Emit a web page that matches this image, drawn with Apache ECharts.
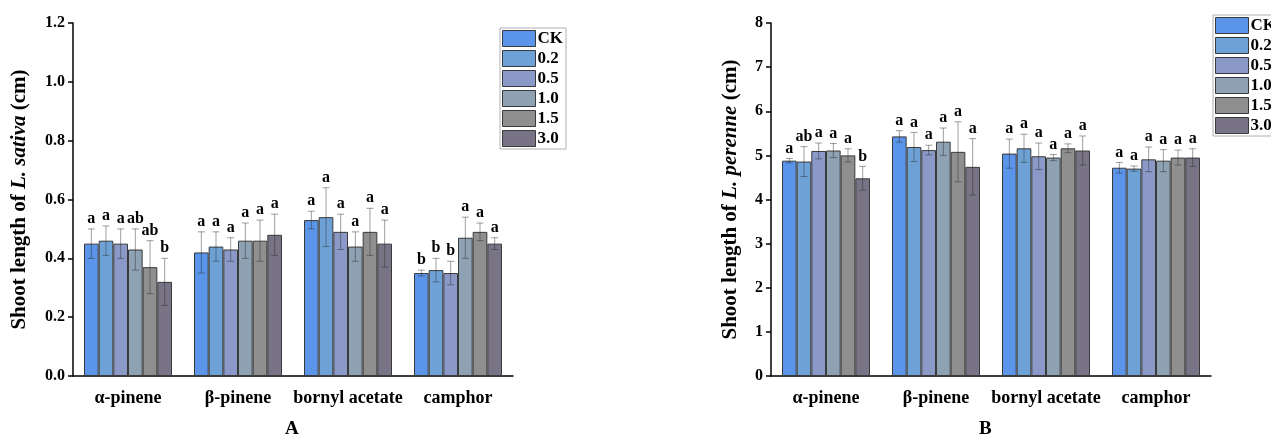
<!DOCTYPE html>
<html>
<head>
<meta charset="utf-8">
<script src="https://cdn.jsdelivr.net/npm/echarts@6/dist/echarts.min.js"></script>
<style>
html,body{margin:0;padding:0;background:#fff;}
#c{width:1271px;height:438px;}
</style>
</head>
<body>
<div id="c"></div>
<script>
// ---- data ----
const categories = ['α-pinene', 'β-pinene', 'bornyl acetate', 'camphor'];
const seriesNames = ['CK', '0.2', '0.5', '1.0', '1.5', '3.0'];
const colors = ['#5b95ea', '#6ea2d6', '#8b99c9', '#8fa2b3', '#8f8f8f', '#787486'];

// Chart A: L. sativa (rows = series, cols = categories)
const aMean = [
  [0.45, 0.42, 0.53, 0.35],
  [0.46, 0.44, 0.54, 0.36],
  [0.45, 0.43, 0.49, 0.35],
  [0.43, 0.46, 0.44, 0.47],
  [0.37, 0.46, 0.49, 0.49],
  [0.32, 0.48, 0.45, 0.45]
];
const aSD = [
  [0.05, 0.07, 0.03, 0.01],
  [0.05, 0.05, 0.10, 0.04],
  [0.05, 0.04, 0.06, 0.04],
  [0.07, 0.06, 0.05, 0.07],
  [0.09, 0.07, 0.08, 0.03],
  [0.08, 0.07, 0.08, 0.02]
];
const aLetters = [
  ['a', 'a', 'a', 'b'],
  ['a', 'a', 'a', 'b'],
  ['a', 'a', 'a', 'b'],
  ['ab', 'a', 'a', 'a'],
  ['ab', 'a', 'a', 'a'],
  ['b', 'a', 'a', 'a']
];
const aTicks = [0, 1.2, 0.2];

// Chart B: L. perenne
const bMean = [
  [4.88, 5.43, 5.04, 4.72],
  [4.86, 5.19, 5.16, 4.70],
  [5.10, 5.12, 4.98, 4.91],
  [5.11, 5.31, 4.95, 4.88],
  [5.00, 5.08, 5.16, 4.95],
  [4.48, 4.74, 5.11, 4.95]
];
const bSD = [
  [0.05, 0.13, 0.33, 0.12],
  [0.34, 0.33, 0.32, 0.06],
  [0.18, 0.11, 0.30, 0.28],
  [0.16, 0.31, 0.07, 0.25],
  [0.15, 0.68, 0.10, 0.17],
  [0.27, 0.64, 0.33, 0.20]
];
const bLetters = [
  ['a', 'a', 'a', 'a'],
  ['ab', 'a', 'a', 'a'],
  ['a', 'a', 'a', 'a'],
  ['a', 'a', 'a', 'a'],
  ['a', 'a', 'a', 'a'],
  ['b', 'a', 'a', 'a']
];
const bTicks = [0, 8, 1];

// ---- chart ----
const FONT = '"Liberation Serif", "Times New Roman", serif';
const chart = echarts.init(document.getElementById('c'));

const grids = [
  { left: 73, top: 23, width: 440, height: 353 },
  { left: 771, top: 23, width: 440, height: 353 }
];

function xAxes(gi) {
  return [
    {
      type: 'category', gridIndex: gi, data: categories,
      axisLine: { lineStyle: { color: '#000', width: 1.5 } },
      axisTick: { alignWithLabel: true, length: 6, lineStyle: { color: '#000', width: 1.5 } },
      axisLabel: { interval: 0, fontFamily: FONT, fontWeight: 'bold', fontSize: 18, color: '#000', margin: 13 }
    },
    {
      type: 'category', gridIndex: gi, data: categories, position: 'bottom',
      axisLine: { show: false },
      axisTick: { alignWithLabel: false, interval: 0, length: 3, lineStyle: { color: '#000', width: 1.5 } },
      axisLabel: { show: false }
    }
  ];
}

function yAxis(gi, ticks, title, italic, gap, decimals) {
  return {
    type: 'value', gridIndex: gi, min: ticks[0], max: ticks[1], interval: ticks[2],
    splitLine: { show: false },
    axisLine: { show: true, lineStyle: { color: '#000', width: 1.5 } },
    axisTick: { show: true, length: 5, lineStyle: { color: '#000', width: 1.5 } },
    axisLabel: {
      fontFamily: FONT, fontWeight: 'bold', fontSize: 16, color: '#000', margin: 8,
      formatter: v => v.toFixed(decimals)
    },
    name: title + '{i|' + italic + '} (cm)',
    nameLocation: 'middle', nameRotate: 90, nameGap: gap,
    nameTextStyle: {
      fontFamily: FONT, fontWeight: 'bold', fontSize: 21, color: '#000',
      rich: { i: { fontFamily: FONT, fontWeight: 'bold', fontStyle: 'italic', fontSize: 21, color: '#000' } }
    }
  };
}

function barSeries(mean, xi, yi) {
  return seriesNames.map((n, s) => ({
    name: n, type: 'bar', xAxisIndex: xi, yAxisIndex: yi,
    data: mean[s], barGap: '0%', barCategoryGap: '20%',
    itemStyle: { color: colors[s], borderColor: '#3a3a3a', borderWidth: 1 },
    emphasis: { disabled: true }
  }));
}

function errSeries(mean, sd, letters, xi, yi) {
  const data = [];
  for (let s = 0; s < seriesNames.length; s++)
    for (let c = 0; c < categories.length; c++)
      data.push([c, s, mean[s][c], sd[s][c]]);
  return {
    type: 'custom', xAxisIndex: xi, yAxisIndex: yi, z: 10, silent: true,
    encode: { x: 0, y: 2 },
    data: data,
    renderItem: function (params, api) {
      const c = api.value(0), s = api.value(1), m = api.value(2), e = api.value(3);
      const bw = api.size([1, 0])[0];
      const groupW = bw * 0.8, barW = groupW / seriesNames.length;
      const cx = api.coord([c, 0])[0] - groupW / 2 + (s + 0.5) * barW;
      const yT = api.coord([c, m + e])[1];
      const yB = api.coord([c, m - e])[1];
      const st = { stroke: 'rgba(40,40,40,0.45)', lineWidth: 1 };
      return {
        type: 'group',
        children: [
          { type: 'line', shape: { x1: cx, y1: yT, x2: cx, y2: yB }, style: st },
          { type: 'line', shape: { x1: cx - 3.5, y1: yT, x2: cx + 3.5, y2: yT }, style: st },
          { type: 'line', shape: { x1: cx - 3.5, y1: yB, x2: cx + 3.5, y2: yB }, style: st },
          {
            type: 'text',
            style: {
              text: letters[s][c], x: cx, y: yT - 2,
              textAlign: 'center', textVerticalAlign: 'bottom',
              fontFamily: FONT, fontWeight: 'bold', fontSize: 16, fill: '#000'
            }
          }
        ]
      };
    }
  };
}

function legend(left, top) {
  return {
    orient: 'vertical', left: left, top: top, data: seriesNames,
    itemWidth: 33, itemHeight: 16, itemGap: 3,
    padding: [2, 3, 2, 2], borderColor: '#b0b0b0', borderWidth: 1,
    icon: 'rect', selectedMode: false,
    textStyle: { fontFamily: FONT, fontWeight: 'bold', fontSize: 17, color: '#000', padding: [0, 0, 0, -3] },
    itemStyle: { borderColor: '#3a3a3a', borderWidth: 1 }
  };
}

chart.setOption({
  animation: false,
  grid: grids,
  xAxis: [...xAxes(0), ...xAxes(1)],
  yAxis: [
    yAxis(0, aTicks, 'Shoot length of ', 'L. sativa', 43, 1),
    yAxis(1, bTicks, 'Shoot length of ', 'L. perenne', 30, 0)
  ],
  legend: [legend(500, 28), legend(1213, 15)],
  series: [
    ...barSeries(aMean, 0, 0),
    errSeries(aMean, aSD, aLetters, 0, 0),
    ...barSeries(bMean, 2, 1),
    errSeries(bMean, bSD, bLetters, 2, 1)
  ],
  graphic: [
    { type: 'text', left: 285, top: 420, style: { text: 'A', fontFamily: FONT, fontWeight: 'bold', fontSize: 19, fill: '#000' } },
    { type: 'text', left: 979, top: 420, style: { text: 'B', fontFamily: FONT, fontWeight: 'bold', fontSize: 19, fill: '#000' } }
  ]
});
</script>
</body>
</html>
